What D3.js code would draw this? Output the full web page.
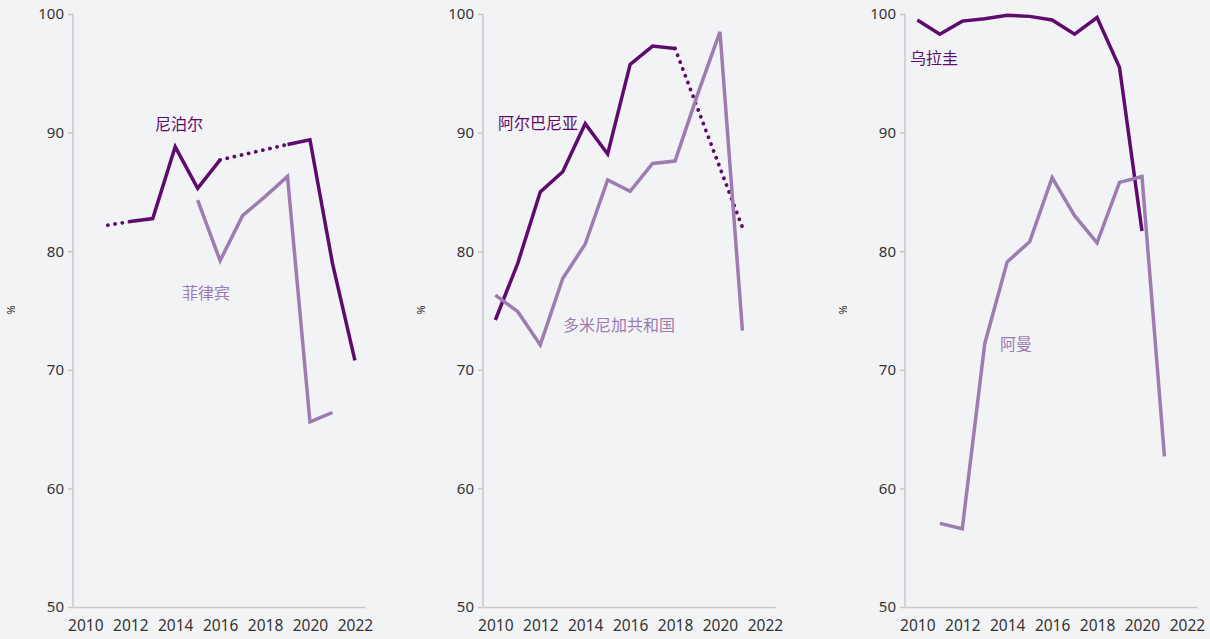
<!DOCTYPE html>
<html>
<head>
<meta charset="UTF-8">
<title>Small multiples</title>
<script src="https://d3js.org/d3.v7.min.js"></script>
<style>
body { margin: 0; background: #f2f3f5; }
svg { display: block; }
.tick text { font-family: "Noto Sans", "DejaVu Sans", sans-serif; fill: #333; }
</style>
</head>
<body>
<svg id="chart" width="1210" height="639"></svg>
<script>

/* Data, one array per country (null = no value) */
var years = [2010, 2011, 2012, 2013, 2014, 2015, 2016, 2017, 2018, 2019, 2020, 2021, 2022]
var yTicks = [50, 60, 70, 80, 90, 100]
var xTicks = [2010, 2012, 2014, 2016, 2018, 2020, 2022]

var nepal       = [null, 82.2, 82.5, 82.75, 88.8, 85.3, 87.7, null, null, 89.0, 89.4, 79.0, 70.8]
var philippines = [null, null, null, null, null, 84.3, 79.2, 83.0, 84.6, 86.3, 65.6, 66.4, null]
var albania     = [74.2, 79.0, 85.0, 86.7, 90.75, 88.2, 95.75, 97.3, 97.1, null, null, 82.0, null]
var dominican   = [76.3, 74.9, 72.1, 77.7, 80.6, 86.0, 85.05, 87.4, 87.6, 93.2, 98.5, 73.3, null]
var uruguay     = [99.5, 98.3, 99.4, 99.6, 99.9, 99.8, 99.5, 98.3, 99.7, 95.5, 81.7, null, null]
var oman        = [null, 57.05, 56.6, 72.2, 79.1, 80.8, 86.2, 83.0, 80.7, 85.8, 86.3, 62.7, null]

// years whose segment to the next value is drawn dotted (estimate, not gap)
var nepalDotted = [2011]

var dark = '#5f0b6e'
var light = '#9d7cb1'

/* Panels: axis-left x, label positions */
var panels = [
  { left: 73, series: [
      { vals: nepal, dotted: nepalDotted, color: dark, name: '尼泊尔', lx: 155, ly: 130 },
      { vals: philippines, dotted: [], color: light, name: '菲律宾', lx: 182, ly: 299 } ] },
  { left: 483, series: [
      { vals: albania, dotted: [], color: dark, name: '阿尔巴尼亚', lx: 498, ly: 129 },
      { vals: dominican, dotted: [], color: light, name: '多米尼加共和国', lx: 563, ly: 331 } ] },
  { left: 905, series: [
      { vals: uruguay, dotted: [], color: dark, name: '乌拉圭', lx: 910, ly: 64 },
      { vals: oman, dotted: [], color: light, name: '阿曼', lx: 1000, ly: 350 } ] }
]

var plotTop = 14, plotBottom = 607, plotW = 292

var y = d3.scaleLinear().domain([50, 100]).range([plotBottom, plotTop])
var svg = d3.select('#chart')

panels.forEach(function(p) {
  var x = d3.scaleLinear().domain([2009.45, 2022.45]).range([p.left, p.left + plotW])
  var g = svg.append('g')

  // y axis
  var ya = g.append('g').attr('transform', 'translate(' + p.left + ',0)')
    .call(d3.axisLeft(y).tickValues(yTicks).tickSize(5).tickPadding(4))
  ya.select('.domain').attr('stroke', '#c9c9cc').attr('stroke-width', 1.5)
    .attr('d', 'M0,' + plotTop + 'V' + plotBottom)
  ya.selectAll('.tick line').attr('stroke', '#c9c9cc').attr('stroke-width', 1.5)
  ya.selectAll('.tick text').style('font-size', '15px')

  // x axis
  var xa = g.append('g').attr('transform', 'translate(0,' + plotBottom + ')')
    .call(d3.axisBottom(x).tickValues(xTicks).tickFormat(d3.format('d')).tickSize(0).tickPadding(13))
  xa.select('.domain').attr('stroke', '#c9c9cc').attr('stroke-width', 1.5)
  xa.selectAll('.tick text').style('font-size', '15.5px')

  // % label
  g.append('text')
    .attr('transform', 'translate(' + (p.left - 58) + ',310) rotate(-90)')
    .attr('text-anchor', 'middle')
    .style('font-family', '"Noto Sans", sans-serif')
    .style('font-size', '11px')
    .style('fill', '#333')
    .text('%')

  p.series.forEach(function(s) {
    var pts = years.map(function(yr, i) { return { yr: yr, v: s.vals[i] } })
    var known = pts.filter(function(d) { return d.v != null })
    var lineGen = d3.line().x(function(d) { return x(d.yr) }).y(function(d) { return y(d.v) })

    // split into solid runs and dotted bridges
    var dottedSegs = [], runs = [], cur = [known[0]]
    for (var i = 1; i < known.length; i++) {
      var a = known[i - 1], b = known[i]
      if (b.yr - a.yr > 1 || s.dotted.indexOf(a.yr) >= 0) {
        dottedSegs.push([a, b])
        runs.push(cur)
        cur = [b]
      } else {
        cur.push(b)
      }
    }
    runs.push(cur)

    dottedSegs.forEach(function(seg) {
      g.append('path').attr('d', lineGen(seg))
        .attr('fill', 'none').attr('stroke', s.color).attr('stroke-width', 3.8)
        .attr('stroke-linecap', 'round').attr('stroke-dasharray', '0.1 7.2')
    })
    runs.filter(function(r) { return r.length > 1 }).forEach(function(r) {
      g.append('path').attr('d', lineGen(r))
        .attr('fill', 'none').attr('stroke', s.color).attr('stroke-width', 3.5)
    })

    g.append('text').attr('x', s.lx).attr('y', s.ly)
      .style('font-family', '"Noto Sans CJK SC", sans-serif')
      .style('font-size', '16px')
      .style('fill', s.color)
      .text(s.name)
  })
})

</script>
</body>
</html>
